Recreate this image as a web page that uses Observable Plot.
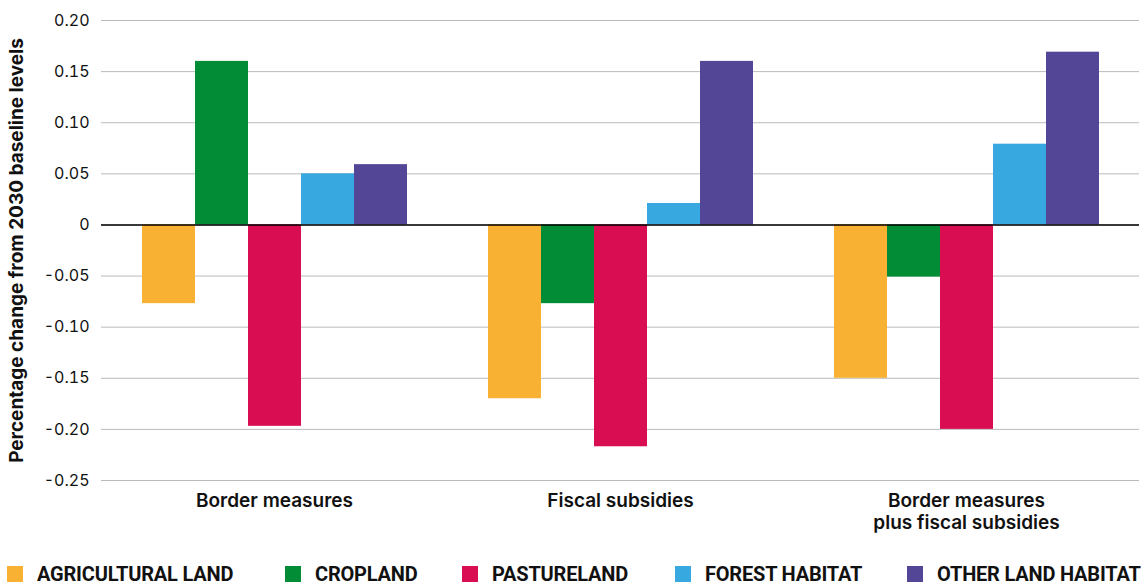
<!DOCTYPE html>
<html><head><meta charset="utf-8">
<script src="https://cdn.jsdelivr.net/npm/d3@7"></script>
<script src="https://cdn.jsdelivr.net/npm/@observablehq/plot@0.6"></script>
<style>
body{margin:0;background:#fff;font-family:Inter,Roboto,sans-serif;}
#legend{position:relative;height:45px;}
.item{position:absolute;top:26px;display:flex;align-items:center;font-family:Roboto,sans-serif;font-weight:700;font-size:20px;letter-spacing:-0.2px;line-height:16px;color:#111;white-space:nowrap;}
.sw{width:16px;height:16px;margin-right:14px;flex:none;}
</style></head>
<body>
<div id="chart"></div>
<div id="legend"></div>
<script>
const scenarios = ["Border measures", "Fiscal subsidies", "Border measures\nplus fiscal subsidies"];
const categories = ["AGRICULTURAL LAND", "CROPLAND", "PASTURELAND", "FOREST HABITAT", "OTHER LAND HABITAT"];
const colors = ["#f8b133", "#028c36", "#d90d52", "#38a9e0", "#544696"];
const borderMeasures = [-0.077, 0.160, -0.197, 0.050, 0.059];
const fiscalSubsidies = [-0.170, -0.077, -0.217, 0.021, 0.160];
const borderPlusFiscal = [-0.150, -0.051, -0.200, 0.079, 0.169];
const yTicks = [-0.25, -0.20, -0.15, -0.10, -0.05, 0, 0.05, 0.10, 0.15, 0.20];

const series = [borderMeasures, fiscalSubsidies, borderPlusFiscal];
const data = [];
scenarios.forEach((s, i) => categories.forEach((c, j) => data.push({scenario: s, category: c, value: series[i][j]})));

const chart = Plot.plot({
  width: 1145,
  height: 540,
  marginLeft: 100,
  marginRight: 5,
  marginTop: 20,
  marginBottom: 60,
  style: {fontFamily: "Inter, Roboto, sans-serif", fontSize: "16px", color: "#111"},
  fx: {domain: scenarios, padding: 0, label: null, axis: null},
  x: {domain: categories, paddingInner: 0, paddingOuter: 0.75, axis: null},
  y: {domain: [-0.25, 0.20], ticks: yTicks},
  color: {domain: categories, range: colors},
  marks: [
    Plot.gridY(yTicks, {stroke: "#bbb", strokeOpacity: 1, strokeWidth: 1}),
    Plot.axisY(yTicks, {tickSize: 0, tickPadding: 12, tickFormat: d => d === 0 ? "0" : d.toFixed(2), fontSize: 16,
      label: "Percentage change from 2030 baseline levels", labelAnchor: "center", labelArrow: "none", labelOffset: 92}),
    Plot.axisFx({anchor: "bottom", tickSize: 0, tickPadding: 11, fontSize: 19, fontWeight: 600, label: null, lineHeight: 1.15}),
    Plot.barY(data, {fx: "scenario", x: "category", y: "value", fill: "category"}),
    Plot.ruleY([0], {stroke: "#000", strokeWidth: 1.5})
  ]
});
chart.querySelectorAll("g[aria-label='y-axis label'] text").forEach(t => {t.setAttribute("font-weight", "700"); t.setAttribute("font-size", "19");});
document.getElementById("chart").appendChild(chart);

const lg = document.getElementById("legend");
const lefts = [7, 285, 462, 675, 907];
categories.forEach((c, i) => {
  const d = document.createElement("div");
  d.className = "item";
  d.style.left = lefts[i] + "px";
  d.innerHTML = `<span class="sw" style="background:${colors[i]}"></span><span>${c}</span>`;
  lg.appendChild(d);
});
</script>
</body></html>
